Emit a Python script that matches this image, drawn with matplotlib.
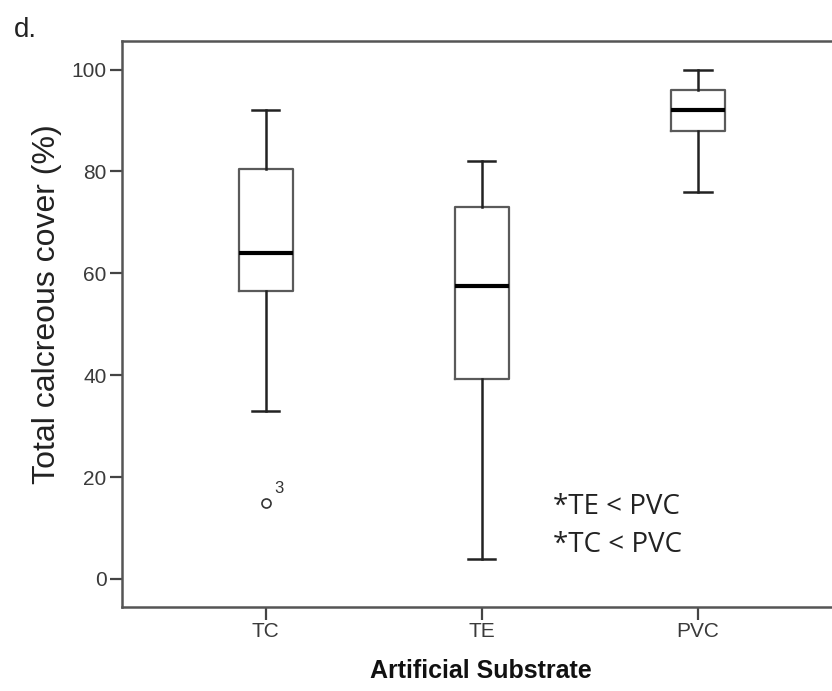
"""
Boxplot of total calcareous cover by artificial substrate (SPSS style).
"""

import matplotlib
matplotlib.use("Agg")
import matplotlib.pyplot as plt

# summary statistics
categories = ["TC", "TE", "PVC"]
whislo = [33.0, 4.0, 76.0]
q1 = [56.5, 39.2, 88.0]
med = [64.0, 57.6, 92.0]
q3 = [80.5, 73.1, 96.0]
whishi = [92.0, 82.0, 100.0]
fliers = [[15.0], [], []]
flier_labels = [["3"], [], []]
yticks = [0, 20, 40, 60, 80, 100]

plt.rcParams["font.family"] = ["Liberation Sans", "DejaVu Sans"]

fig = plt.figure(figsize=(8.32, 6.91), dpi=100)
ax = fig.add_axes([0.1466, 0.1216, 0.8534, 0.8191])

stats = []
for i, name in enumerate(categories):
    stats.append({
        "label": name, "whislo": whislo[i], "q1": q1[i], "med": med[i],
        "q3": q3[i], "whishi": whishi[i], "fliers": fliers[i],
    })

ax.bxp(
    stats,
    positions=[1, 2, 3],
    widths=0.25,
    boxprops=dict(color="#5a5a5a", linewidth=1.6),
    whiskerprops=dict(color="#222222", linewidth=1.8),
    capprops=dict(color="#222222", linewidth=1.8),
    medianprops=dict(color="#000000", linewidth=3.0),
    flierprops=dict(marker="o", markersize=6.5, markerfacecolor="white",
                    markeredgecolor="#333333", markeredgewidth=1.2),
)

for i, (vals, labs) in enumerate(zip(fliers, flier_labels)):
    for v, lab in zip(vals, labs):
        ax.annotate(lab, (i + 1, v), xytext=(6, 5), textcoords="offset points",
                    fontsize=12, color="#333333", ha="left", va="bottom")

ax.set_xlim(0.335, 3.62)
ax.set_ylim(-5.5, 105.6)
ax.set_yticks(yticks)
ax.set_xticks([1, 2, 3])
ax.set_xticklabels(categories)

for side in ["left", "bottom", "top"]:
    ax.spines[side].set_color("#555555")
    ax.spines[side].set_linewidth(1.8)
ax.spines["right"].set_visible(False)
ax.tick_params(direction="out", length=9, width=1.6, color="#444444",
               labelsize=15, labelcolor="#3a3a3a", pad=2)

ax.set_ylabel("Total calcreous cover (%)", fontsize=23, color="#222222")
ax.yaxis.set_label_coords(-0.0845, 0.535)
ax.set_xlabel("Artificial Substrate", fontsize=18, fontweight="bold",
              color="#111111")
ax.xaxis.set_label_coords(0.506, -0.092)

ax.text(2.33, 14.1, "*TE < PVC", fontsize=20, family=["Open Sans", "DejaVu Sans"],
        color="#222222", ha="left", va="center")
ax.text(2.33, 6.7, "*TC < PVC", fontsize=20, family=["Open Sans", "DejaVu Sans"],
        color="#222222", ha="left", va="center")

fig.text(0.017, 0.975, "d.", fontsize=20, color="#222222", ha="left", va="top")

fig.savefig("out.png", dpi=100, facecolor="white")
